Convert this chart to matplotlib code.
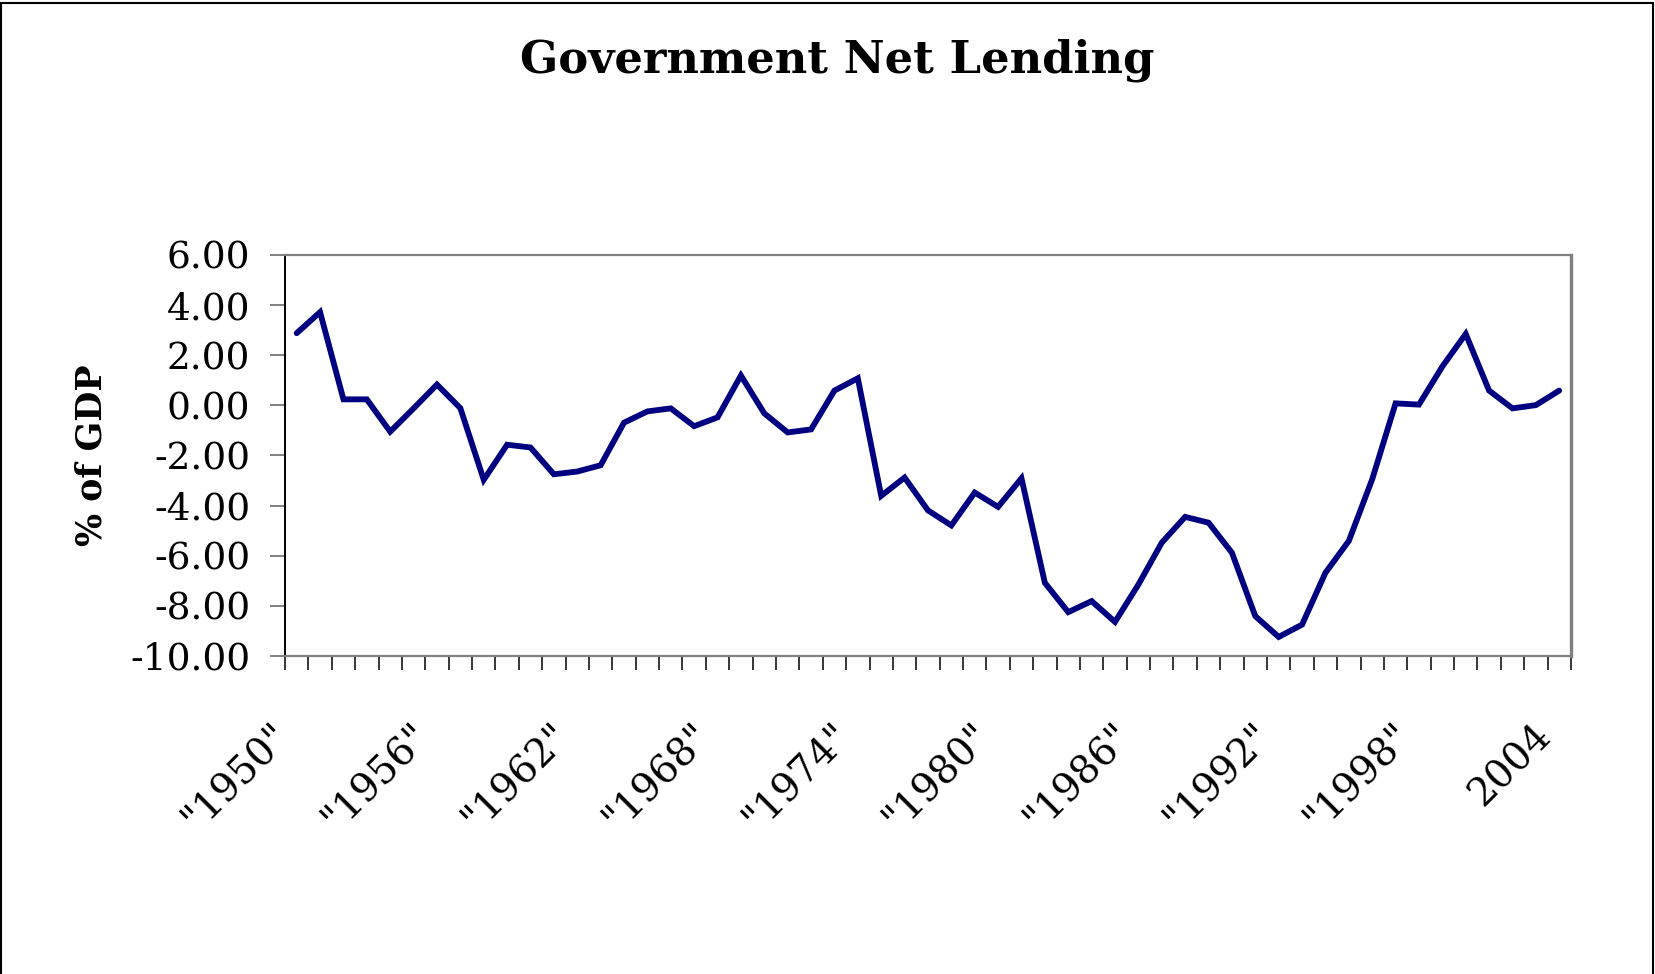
import matplotlib
matplotlib.use("Agg")
import matplotlib.pyplot as plt
import numpy as np
from matplotlib.patches import Rectangle

# ---- data ----
years = list(range(1950, 2005))
categories = [f'"{y}"' for y in range(1950, 2004)] + ['2004']
net_lending = [2.88, 3.72, 0.24, 0.24, -1.05, -0.12, 0.83, -0.11, -2.97, -1.57,
               -1.68, -2.75, -2.64, -2.39, -0.69, -0.24, -0.12, -0.83, -0.48, 1.19,
               -0.32, -1.08, -0.96, 0.59, 1.08, -3.61, -2.88, -4.19, -4.79, -3.48,
               -4.05, -2.91, -7.08, -8.25, -7.81, -8.64, -7.15, -5.48, -4.45, -4.68,
               -5.88, -8.41, -9.24, -8.75, -6.68, -5.41, -2.95, 0.08, 0.03, 1.55,
               2.85, 0.59, -0.12, 0.01, 0.59]
y_ticks = [-10, -8, -6, -4, -2, 0, 2, 4, 6]
y_ticklabels = ['-10.00', '-8.00', '-6.00', '-4.00', '-2.00', '0.00', '2.00', '4.00', '6.00']
label_step = 6
title = 'Government Net Lending'
ylabel = '% of GDP'

SERIF = ['DejaVu Serif']
plt.rcParams['font.family'] = SERIF

fig = plt.figure(figsize=(16.55, 9.74), dpi=100)
ax = fig.add_axes([0.1722, 0.3265, 0.9492 - 0.1722, 0.7382 - 0.3265])

x = np.arange(len(categories))
ax.plot(x, net_lending, color='#000080', lw=4.2, solid_joinstyle='miter', solid_capstyle='round')

ax.set_xlim(-0.5, len(categories) - 0.5)
ax.set_ylim(min(y_ticks), max(y_ticks))

ax.set_yticks(y_ticks)
ax.set_yticklabels(y_ticklabels, fontsize=27)
ax.tick_params(axis='y', direction='out', length=11, width=1.4, color='#808080', pad=14)

major_pos = x[::label_step]
ax.set_xticks(major_pos)
ax.set_xticklabels([categories[i] for i in major_pos], rotation=45, ha='right', va='top',
                   fontsize=28)
ax.tick_params(axis='x', which='major', length=0, pad=44)
ax.set_xticks(np.arange(len(categories) + 1) - 0.5, minor=True)
ax.tick_params(axis='x', which='minor', direction='out', length=10, width=1.1, color='black')

for s in ['top', 'bottom']:
    ax.spines[s].set_color('#808080')
    ax.spines[s].set_linewidth(1.6)
ax.spines['right'].set_color('#808080')
ax.spines['right'].set_linewidth(2.4)
ax.spines['left'].set_color('black')
ax.spines['left'].set_linewidth(1.4)

ax.set_ylabel(ylabel, fontsize=25, fontweight='bold')
ax.yaxis.set_label_coords(-0.137, 0.5)

fig.text(0.506, 0.938, title, ha='center', va='center', fontsize=32.3, fontweight='bold')

fig.patches.append(Rectangle((0.0008, -0.05), 0.998, 1.047, transform=fig.transFigure,
                             fill=False, edgecolor='black', lw=1.5))

fig.savefig('out.png', dpi=100, facecolor='white')
